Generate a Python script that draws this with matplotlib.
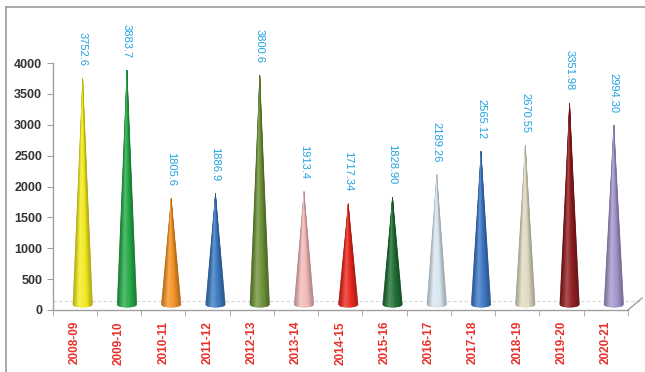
import numpy as np
import matplotlib
matplotlib.use('Agg')
from matplotlib import pyplot as plt
from matplotlib.colors import to_rgb
from matplotlib.lines import Line2D

years = ['2008-09', '2009-10', '2010-11', '2011-12', '2012-13', '2013-14', '2014-15',
         '2015-16', '2016-17', '2017-18', '2018-19', '2019-20', '2020-21']
values = [3752.6, 3883.7, 1805.6, 1886.9, 3800.6, 1913.4, 1717.34,
          1828.90, 2189.26, 2565.12, 2670.55, 3351.98, 2994.30]
value_labels = ['3752.6', '3883.7', '1805.6', '1886.9', '3800.6', '1913.4', '1717.34',
                '1828.90', '2189.26', '2565.12', '2670.55', '3351.98', '2994.30']
colors = ['#f2ea1c', '#22a845', '#f39222', '#3a78c0', '#6b8f35', '#f2b9b9', '#e8261c',
          '#1e6e33', '#d8e6f0', '#3b76c3', '#dedac2', '#8e1b1e', '#a294ca']

plt.rcParams['font.family'] = ['Liberation Sans', 'DejaVu Sans']

fig = plt.figure(figsize=(6.45, 3.72), dpi=100)
ax = fig.add_axes([52.6 / 645, 62 / 372, 575.4 / 645, 247 / 372])

# outer frame (only top/left visible in the reference)
fig.add_artist(Line2D([6 / 645, 1], [1 - 7 / 372, 1 - 7 / 372], color='#9a9a9a', lw=1.2))
fig.add_artist(Line2D([6 / 645, 6 / 645], [0, 1 - 7 / 372], color='#9a9a9a', lw=1.2))


def shade(c, t):
    c = np.array(to_rgb(c))
    hl = 0.22 * max(0.0, 1 - abs(t + 0.25) / 0.6)
    dk = 0.28 * max(0.0, abs(t) - 0.4) / 0.6
    c = c + (1 - c) * hl
    c = c * (1 - dk)
    return np.clip(c, 0, 1)


off = 0.18      # 3D depth shift of the cones
hw = 0.22       # half width of the cone base
base = 90       # base level of the cones
eh = 45         # half height of the base ellipse
n = 24
ts = np.linspace(-1, 1, n + 1)
for i, (v, col) in enumerate(zip(values, colors)):
    xc = i + off
    for k in range(n):
        t0, t1 = ts[k], ts[k + 1]
        y0 = base - eh * np.sqrt(max(0.0, 1 - t0 ** 2))
        y1 = base - eh * np.sqrt(max(0.0, 1 - t1 ** 2))
        fc = shade(col, (t0 + t1) / 2)
        ax.fill([xc, xc + t0 * hw, xc + t1 * hw], [v, y0, y1],
                color=fc, lw=0.4, zorder=3)
    ax.annotate(value_labels[i], (xc, v), xytext=(0, 9), textcoords='offset points',
                rotation=270, ha='center', va='bottom', color='#1fa2e2',
                fontsize=8, annotation_clip=False)

# floor of the 3D chart
ax.plot([-0.5, 12.82], [150, 150], color='#d8d8d8', lw=0.8, ls=(0, (3, 2)), zorder=1,
        clip_on=False)
ax.plot([12.5, 12.82], [0, 195], color='#a0a0a0', lw=1.0, clip_on=False)

ax.set_xlim(-0.5, 12.5)
ax.set_ylim(0, 4000)
ax.set_yticks(np.arange(0, 4001, 500))
ax.set_xticks(range(len(years)))
ax.set_xticklabels(years, rotation=90, color='#e8302a', fontweight='bold', fontsize=8.5)
ax.set_xticks(np.arange(-0.5, 12.6, 1), minor=True)
ax.tick_params(axis='x', which='major', length=0, pad=8)
ax.tick_params(axis='x', which='minor', length=4, color='#a0a0a0', direction='out')
ax.tick_params(axis='y', length=4, color='#a0a0a0', labelsize=9, labelcolor='#333333')
for lab in ax.get_yticklabels():
    lab.set_fontweight('bold')

for s in ['top', 'right']:
    ax.spines[s].set_visible(False)
for s in ['left', 'bottom']:
    ax.spines[s].set_color('#a0a0a0')
    ax.spines[s].set_linewidth(1.0)
ax.patch.set_alpha(0)

fig.savefig('out.png', dpi=100)
